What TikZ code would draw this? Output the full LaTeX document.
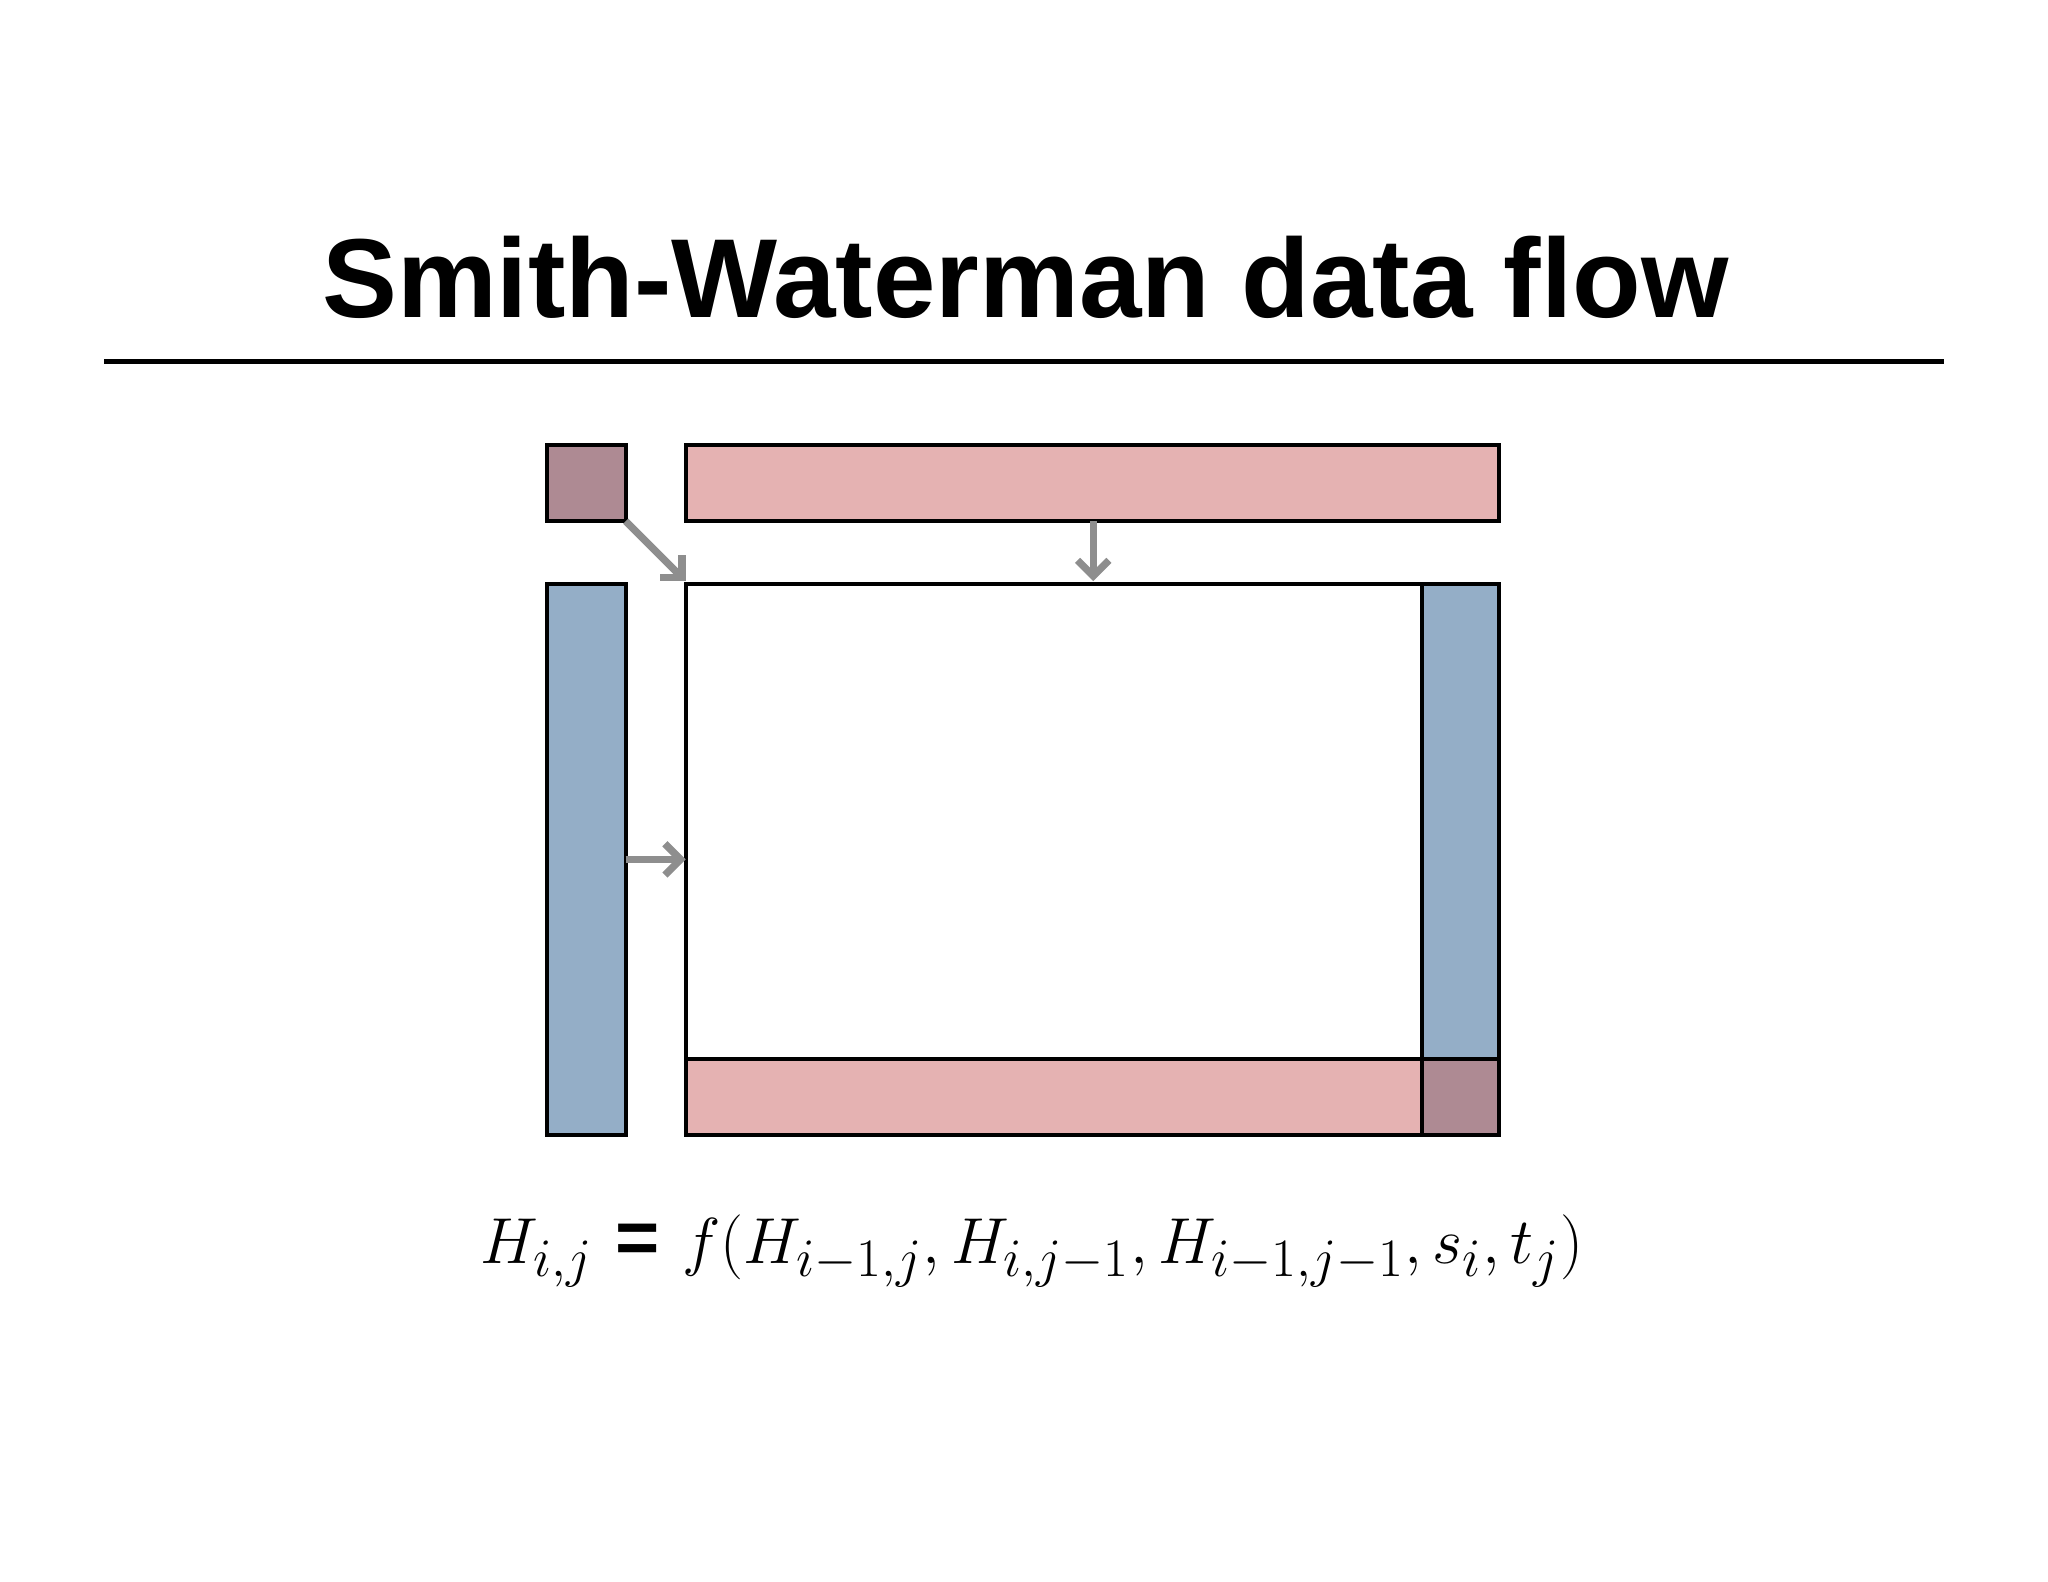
\documentclass[tikz,border=0pt]{standalone}
\usepackage{fontspec}
\setsansfont{Liberation Sans}
\usetikzlibrary{arrows.meta}
\definecolor{pinkc}{HTML}{E5B2B2}
\definecolor{bluec}{HTML}{94AEC7}
\definecolor{mauvec}{HTML}{AE8A93}
\definecolor{arrc}{HTML}{8E8E8E}
\tikzset{cell/.style={draw=black,line width=1.5pt},
  flow/.style={draw=arrc,line width=2.8pt,-{Straight Barb[length=6pt,width=12pt,line width=2.8pt]}}}
\begin{document}
\begin{tikzpicture}[x=0.5pt,y=-0.5pt]
\useasboundingbox (0,0) rectangle (1568,1211);
\node (title) at (785,212) {\fontsize{43}{48}\selectfont\sffamily\bfseries Smith-Waterman data flow};
\draw[line width=2pt] (80,277) -- (1488,277);
\path[cell,fill=mauvec] (419,341) rectangle (479,399);
\path[cell,fill=pinkc] (525,341) rectangle (1148,399);
\path[cell,fill=bluec] (419,447) rectangle (479,869);
\path[cell,fill=white] (525,447) rectangle (1148,869);
\path[cell,fill=bluec] (1089,447) rectangle (1148,869);
\path[cell,fill=pinkc] (525,811) rectangle (1148,869);
\path[cell,fill=mauvec] (1089,811) rectangle (1148,869);
\coordinate (sq) at (479,399); \coordinate (tl) at (525,445);
\coordinate (tb) at (837,399); \coordinate (tm) at (837,445);
\coordinate (lb) at (479,658); \coordinate (lm) at (525,658);
\draw[flow] (sq) -- (tl);
\draw[flow] (tb) -- (tm);
\draw[flow] (lb) -- (lm);
\node (eq) at (790,958) {\fontsize{29}{34}\selectfont$H_{i,j}\ \textsf{\textbf{=}}\ f\biggl(H_{i-1,j},H_{i,j-1},H_{i-1,j-1},s_i,t_j\biggr)$};
\end{tikzpicture}
\end{document}
